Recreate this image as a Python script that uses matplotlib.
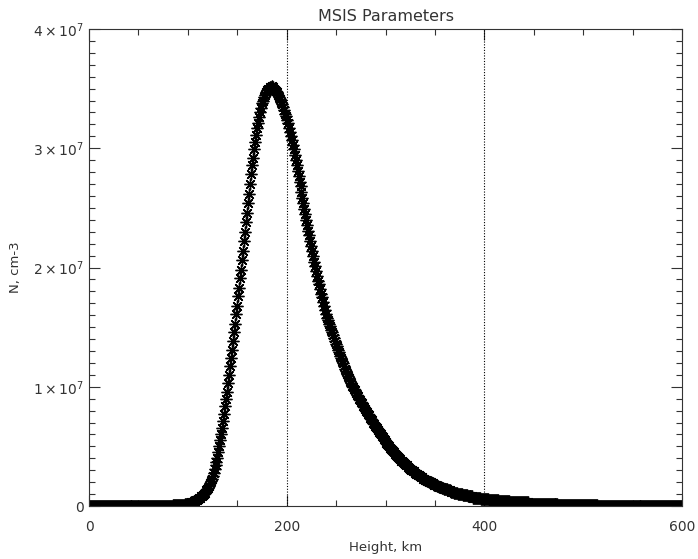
import numpy as np
import matplotlib
matplotlib.use("Agg")
import matplotlib.pyplot as plt

# heights in km, one sample per km
height_km = np.arange(0, 601)

# density, in units of 1e5 cm-3 (one value per km)
density_1e5 = [
    0, 0, 0, 0, 0, 0, 0, 0, 0, 0,            # 0
    0, 0, 0, 0, 0, 0, 0, 0, 0, 0,            # 10
    0, 0, 0, 0, 0, 0, 0, 0, 0, 0,            # 20
    0, 0, 0, 0, 0, 0, 0, 0, 0, 0,            # 30
    0, 0, 0, 0, 0, 0, 0, 0, 0, 0,            # 40
    0, 0, 0, 0, 0, 0, 0, 0, 0, 0,            # 50
    0, 0, 0, 0, 0, 0, 0, 0, 0, 0,            # 60
    0, 0, 0, 0, 0, 0, 0, 0, 0, 0,            # 70
    0, 0, 0, 0, 0, 1, 1, 1, 1, 1,            # 80
    1, 1, 1, 1, 1, 1, 1, 2, 2, 2,            # 90
    2, 2, 2, 3, 3, 3, 4, 4, 5, 5,            # 100
    6, 7, 7, 8, 8, 9, 10, 11, 13, 14,        # 110
    15, 17, 19, 21, 23, 25, 28, 31, 34, 37,  # 120
    40, 45, 50, 55, 60, 65, 71, 77, 84, 90,  # 130
    96, 103, 110, 117, 124, 131, 138, 146, 153, 161,  # 140
    168, 176, 183, 191, 198, 206, 214, 222, 230, 238,  # 150
    246, 254, 262, 270, 278, 286, 292, 299, 305, 311,  # 160
    317, 321, 326, 330, 334, 338, 340, 343, 345, 347,  # 170
    349, 350, 350, 351, 351, 352, 351, 350, 349, 348,  # 180
    347, 345, 343, 341, 339, 337, 335, 332, 329, 327,  # 190
    324, 321, 317, 314, 310, 307, 303, 299, 294, 290,  # 200
    286, 281, 277, 272, 268, 263, 258, 254, 249, 245,  # 210
    240, 236, 231, 227, 222, 218, 214, 210, 205, 201,  # 220
    197, 193, 189, 186, 182, 178, 175, 171, 168, 164,  # 230
    161, 158, 156, 153, 151, 148, 146, 143, 141, 138,  # 240
    136, 134, 131, 129, 126, 124, 122, 120, 117, 115,  # 250
    113, 111, 109, 107, 105, 103, 101, 100, 98, 97,    # 260
    95, 93, 92, 90, 89, 87, 86, 84, 83, 81,  # 270
    80, 79, 77, 76, 74, 73, 72, 70, 69, 67,  # 280
    66, 65, 64, 62, 61, 60, 59, 58, 56, 55,  # 290
    54, 53, 52, 51, 50, 49, 48, 47, 46, 45,  # 300
    44, 43, 42, 41, 40, 39, 38, 38, 37, 36,  # 310
    35, 34, 34, 33, 32, 31, 30, 30, 29, 29,  # 320
    28, 27, 27, 26, 26, 25, 24, 24, 23, 23,  # 330
    22, 22, 21, 21, 20, 20, 20, 19, 19, 18,  # 340
    18, 18, 17, 17, 16, 16, 16, 15, 15, 14,  # 350
    14, 14, 14, 13, 13, 13, 12, 12, 12, 11,  # 360
    11, 11, 11, 10, 10, 10, 10, 10, 9, 9,    # 370
    9, 9, 9, 8, 8, 8, 8, 8, 8, 7,            # 380
    7, 7, 7, 7, 7, 7, 7, 6, 6, 6,            # 390
    6, 6, 6, 6, 6, 5, 5, 5, 5, 5,            # 400
    5, 5, 5, 5, 5, 4, 4, 4, 4, 4,            # 410
    4, 4, 4, 4, 4, 4, 3, 3, 3, 3,            # 420
    3, 3, 3, 3, 3, 3, 3, 3, 3, 3,            # 430
    3, 3, 3, 3, 3, 2, 2, 2, 2, 2,            # 440
    2, 2, 2, 2, 2, 2, 2, 2, 2, 2,            # 450
    2, 2, 2, 2, 2, 2, 2, 2, 2, 2,            # 460
    2, 2, 2, 2, 2, 1, 1, 1, 1, 1,            # 470
    1, 1, 1, 1, 1, 1, 1, 1, 1, 1,            # 480
    1, 1, 1, 1, 1, 1, 1, 1, 1, 1,            # 490
    1, 1, 1, 1, 1, 1, 1, 1, 1, 1,            # 500
    1, 1, 1, 1, 1, 0, 0, 0, 0, 0,            # 510
    0, 0, 0, 0, 0, 0, 0, 0, 0, 0,            # 520
    0, 0, 0, 0, 0, 0, 0, 0, 0, 0,            # 530
    0, 0, 0, 0, 0, 0, 0, 0, 0, 0,            # 540
    0, 0, 0, 0, 0, 0, 0, 0, 0, 0,            # 550
    0, 0, 0, 0, 0, 0, 0, 0, 0, 0,            # 560
    0, 0, 0, 0, 0, 0, 0, 0, 0, 0,            # 570
    0, 0, 0, 0, 0, 0, 0, 0, 0, 0,            # 580
    0, 0, 0, 0, 0, 0, 0, 0, 0, 0,            # 590
    0,                                       # 600
]
density = np.array(density_1e5) * 1e5

# vertical marker lines (km)
ref_heights = [200, 400]

x_ticks = [0, 200, 400, 600]
y_ticks = [0, 1e7, 2e7, 3e7, 4e7]
y_tick_labels = ["0", r"$1\times10^{7}$", r"$2\times10^{7}$",
                 r"$3\times10^{7}$", r"$4\times10^{7}$"]

fig = plt.figure(figsize=(6.98, 5.59), dpi=100)
ax = fig.add_axes([89 / 698, 53 / 559, 593 / 698, 477 / 559])

# asterisk symbols like IDL psym=2
ax.plot(height_km, density, linestyle="none", marker=(8, 2, 0),
        markersize=8.5, markeredgewidth=1.0, color="black")

for h in ref_heights:
    ax.axvline(h, color="black", linestyle=(0, (1, 1.5)), linewidth=0.8)

ax.set_xlim(0, 600)
ax.set_ylim(0, 4e7)
ax.set_xticks(x_ticks)
ax.set_xticks(np.arange(0, 601, 50), minor=True)
ax.set_yticks(y_ticks)
ax.set_yticklabels(y_tick_labels)
ax.set_yticks(np.arange(0, 4.01e7, 1e6), minor=True)

ax.tick_params(which="both", direction="in", top=True, right=True,
               labelsize=10, width=0.8, color="#333333", labelcolor="#333333")
ax.tick_params(which="major", length=8)
ax.tick_params(which="minor", length=4.5)
ax.tick_params(axis="x", which="major", pad=10)
for s in ax.spines.values():
    s.set_linewidth(0.8)
    s.set_color("#333333")

ax.set_title("MSIS Parameters", fontsize=11.5, color="#333333", pad=6)
ax.set_xlabel("Height, km", fontsize=9.5, color="#333333", labelpad=5)
ax.set_ylabel("N, cm-3", fontsize=9.5, color="#333333", labelpad=8)

fig.savefig("out.png", dpi=100)
